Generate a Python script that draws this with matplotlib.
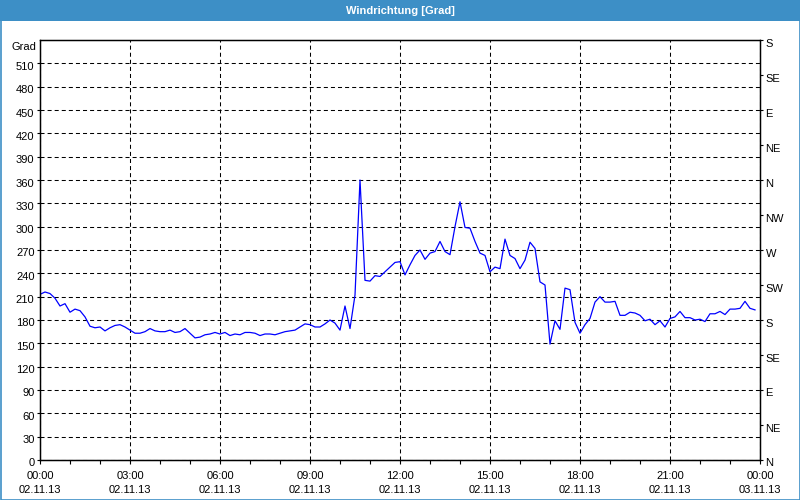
import matplotlib
matplotlib.use("Agg")
import matplotlib.pyplot as plt
import matplotlib.dates as mdates
import matplotlib.transforms as mtransforms
from matplotlib.patches import Rectangle
import pandas as pd

# 10-minute wind direction readings, 02.11.13 00:00 .. 23:50
direction = [
    213, 216, 214, 208, 198, 201, 190, 194, 192, 184,
    172, 170, 171, 166, 170, 173, 174, 171, 167, 163,
    163, 165, 169, 166, 165, 165, 167, 164, 165, 169,
    163, 157, 158, 161, 162, 164, 162, 164, 160, 162,
    161, 164, 164, 163, 160, 162, 162, 161, 163, 165,
    166, 167, 171, 175, 174, 171, 171, 175, 180, 176,
    167, 198, 169, 212, 360, 231, 230, 237, 236, 242,
    248, 254, 255, 238, 251, 263, 270, 258, 266, 268,
    281, 268, 264, 300, 332, 299, 298, 281, 266, 263,
    242, 248, 246, 284, 263, 259, 246, 257, 280, 272,
    229, 225, 149, 179, 168, 221, 219, 177, 163, 174,
    182, 203, 210, 203, 203, 204, 186, 186, 190, 189,
    186, 179, 181, 174, 179, 171, 182, 184, 191, 183,
    183, 180, 181, 178, 188, 188, 191, 187, 194, 194,
    195, 204, 195, 193,
]
start_time = "2013-11-02 00:00"
end_time = "2013-11-03 00:00"
times = pd.date_range(start_time, periods=len(direction), freq="10min")

left_ticks = list(range(0, 540, 30))
compass_ticks = list(range(0, 541, 45))
compass_labels = ["N", "NE", "E", "SE", "S", "SW", "W", "NW", "N", "NE", "E", "SE", "S"]
title = "Windrichtung [Grad]"
unit = "Grad"

plt.rcParams["lines.scale_dashes"] = False
FONT = "Liberation Sans"
BLUE = "#3d8fc6"

fig = plt.figure(figsize=(8, 5), dpi=100, facecolor="white")
fig.patches.append(Rectangle((0, 1 - 21 / 500), 1, 21 / 500, transform=fig.transFigure,
                             facecolor=BLUE, edgecolor="none", zorder=0))
fig.patches.append(Rectangle((0.5 / 800, 0.5 / 500), 1 - 1 / 800, 1 - 1 / 500, transform=fig.transFigure,
                             facecolor="none", edgecolor=BLUE, linewidth=1.2, zorder=0))
fig.text(0.5, 1 - 10.5 / 500, title, color="white", ha="center", va="center",
         fontsize=8, fontweight="bold", family=FONT)

ax = fig.add_axes([40 / 800, 40 / 500, 720 / 800, 420 / 500])
ax.set_facecolor("white")
ax.plot(times, direction, color="#0000ff", linewidth=0.9)

ax.set_xlim(pd.Timestamp(start_time), pd.Timestamp(end_time))
ax.set_ylim(0, 540)

ax.xaxis.set_major_locator(mdates.HourLocator(byhour=range(0, 24, 3)))
ax.xaxis.set_minor_locator(mdates.HourLocator())
ax.xaxis.set_major_formatter(mdates.DateFormatter("%H:%M\n%d.%m.%y"))
ax.set_yticks(left_ticks)

ax.grid(True, which="major", color="black", linestyle=(0, (2.9, 2.2)), linewidth=0.75)
for s in ax.spines.values():
    s.set_color("black")
    s.set_linewidth(1.0)

ax.tick_params(axis="x", which="major", length=3, width=0.8, pad=5, labelsize=8)
ax.tick_params(axis="x", which="minor", length=3, width=0.8)
ax.tick_params(axis="y", which="major", length=2, width=0.8, pad=2, labelsize=8)

shift = mtransforms.ScaledTranslation(0, -2.5 / 100, fig.dpi_scale_trans)
for lab in ax.get_xticklabels():
    lab.set_family(FONT)
    lab.set_linespacing(1.45)
for lab in ax.get_yticklabels():
    lab.set_family(FONT)
    lab.set_transform(lab.get_transform() + shift)

ax.text(-4 / 720, 531, unit, transform=ax.get_yaxis_transform(), ha="right", va="center",
        fontsize=8, family=FONT)

ax2 = ax.twinx()
ax2.set_ylim(0, 540)
ax2.set_yticks(compass_ticks)
ax2.set_yticklabels(compass_labels)
ax2.tick_params(axis="y", length=2, width=0.8, pad=2, labelsize=8)
for lab in ax2.get_yticklabels():
    lab.set_family(FONT)
    lab.set_transform(lab.get_transform() + shift)
for s in ax2.spines.values():
    s.set_color("black")

fig.savefig("out.png", dpi=100, facecolor="white")
